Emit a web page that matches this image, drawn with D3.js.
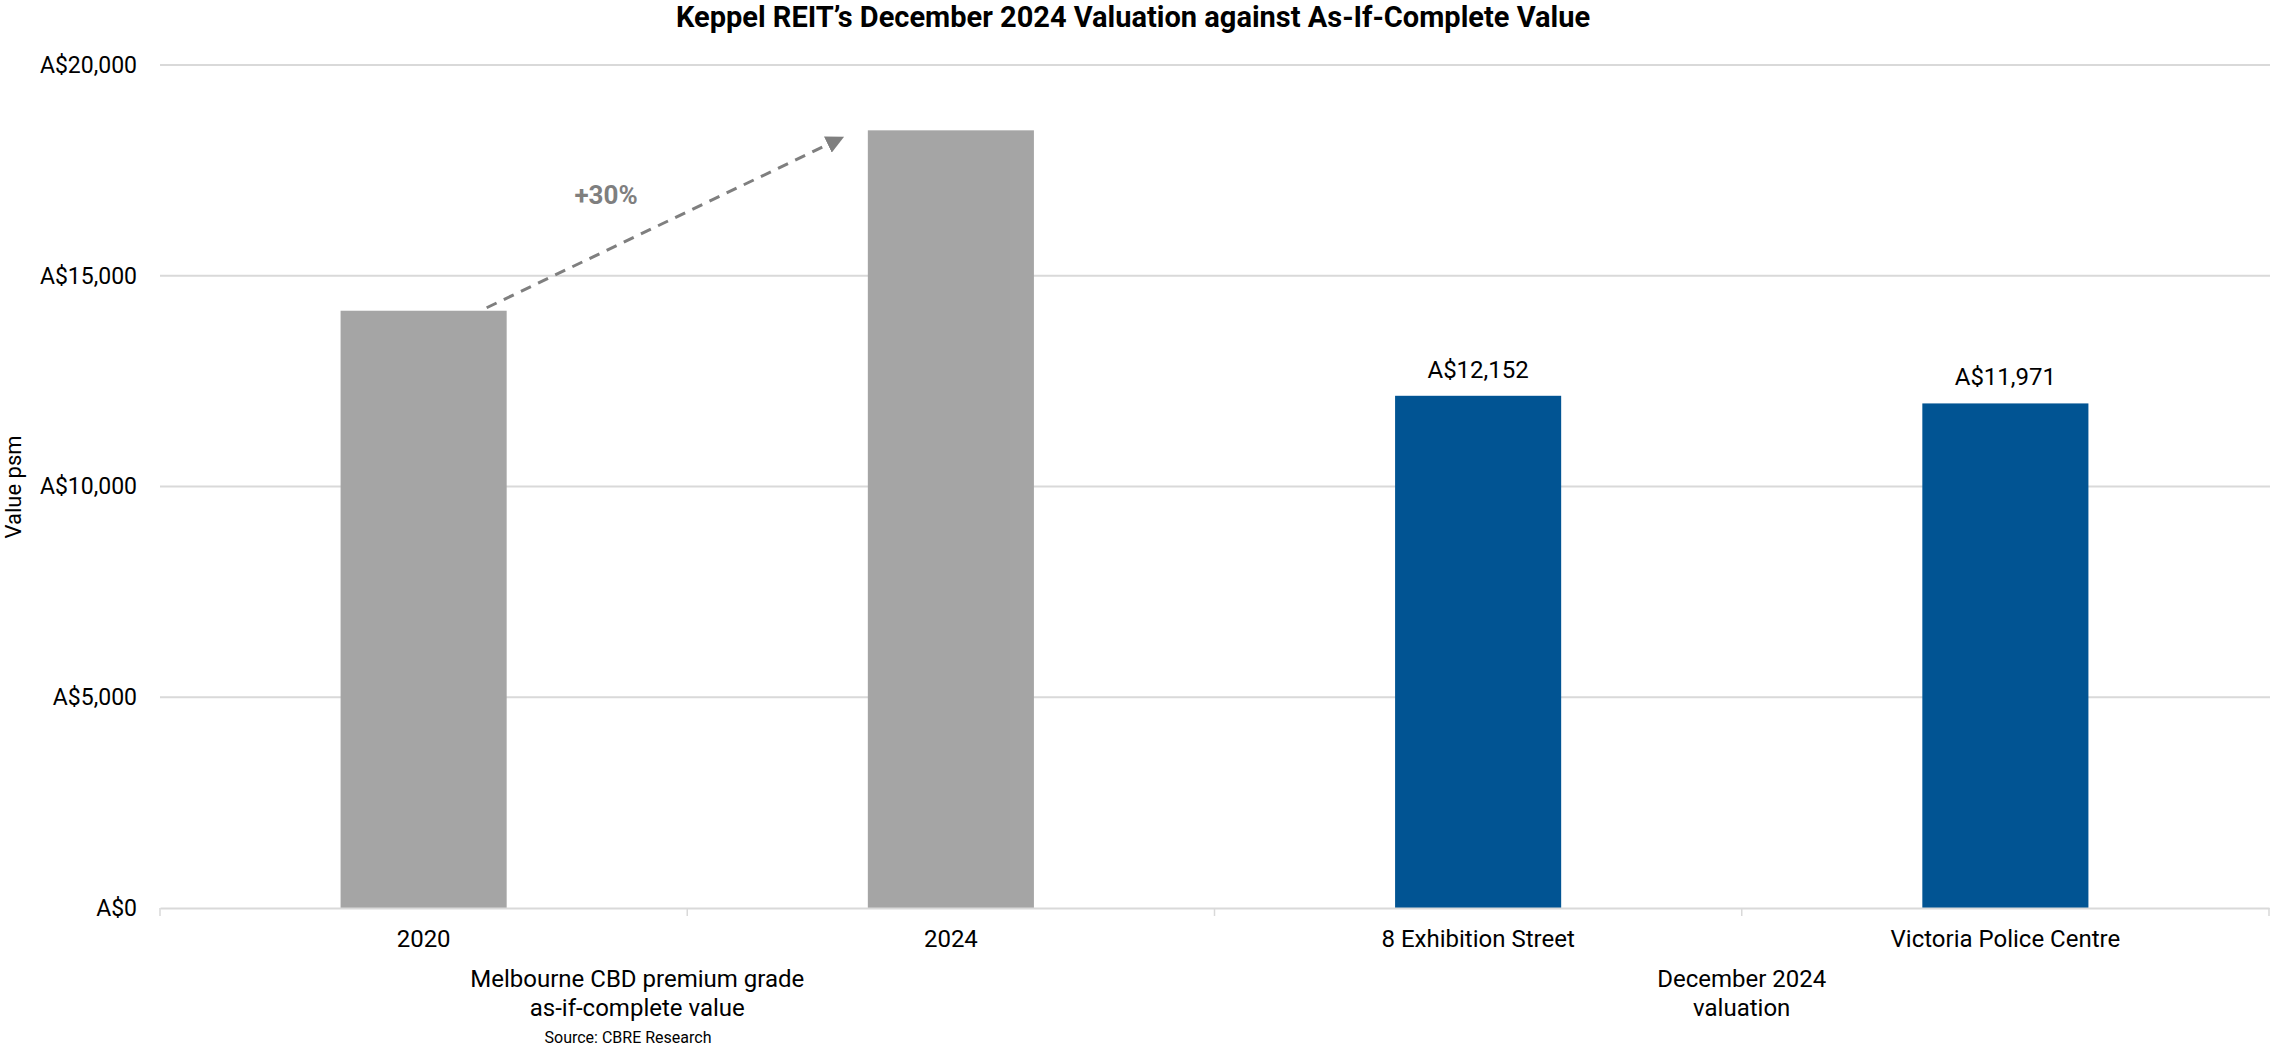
<!DOCTYPE html>
<html><head><meta charset="utf-8">
<script src="https://cdn.jsdelivr.net/npm/d3@7"></script>
<style>
html,body{margin:0;padding:0;background:#fff;}
svg{display:block;font-family:Roboto,"Noto Sans",sans-serif;}
</style></head>
<body>
<svg id="c" width="2270" height="1050"></svg>
<script>
const categories = ["2020", "2024", "8 Exhibition Street", "Victoria Police Centre"];
const values = [14170, 18450, 12152, 11971];
const barColors = ["#a5a5a5", "#a5a5a5", "#015493", "#015493"];
const valueLabels = [null, null, "A$12,152", "A$11,971"];
const yTicks = [0, 5000, 10000, 15000, 20000];
const groups = [
  {lines: ["Melbourne CBD premium grade", "as-if-complete value"], from: 0, to: 1},
  {lines: ["December 2024", "valuation"], from: 2, to: 3}
];
const title = "Keppel REIT\u2019s December 2024 Valuation against As-If-Complete Value";
const yTitle = "Value psm";
const source = "Source: CBRE Research";
const growthLabel = "+30%";

(function(){
const svg = d3.select("#c");
const pL = 160, pR = 2269, pT = 65, pB = 908;
const x = d3.scaleBand().domain(categories).range([pL, pR]).padding(0);
const y = d3.scaleLinear().domain([0, 20000]).range([pB, pT]);
const barW = x.bandwidth() * 0.315;
const fmt = v => "A$" + d3.format(",")(v);

// gridlines
svg.append("g").selectAll("line").data(yTicks.filter(t => t > 0)).join("line")
  .attr("x1", pL).attr("x2", 2270).attr("y1", d => y(d)).attr("y2", d => y(d))
  .attr("stroke", "#d9d9d9").attr("stroke-width", 2);

// y axis labels
const yAxis = svg.append("g").attr("transform", `translate(${pL},0)`)
  .call(d3.axisLeft(y).tickValues(yTicks).tickFormat(fmt).tickSize(0).tickPadding(23));
yAxis.select(".domain").remove();
yAxis.selectAll("text").attr("font-size", 23).attr("fill", "#000").attr("font-family", "Roboto");

// bars
svg.append("g").selectAll("rect").data(values).join("rect")
  .attr("x", (d, i) => x(categories[i]) + x.bandwidth() / 2 - barW / 2)
  .attr("width", barW)
  .attr("y", d => y(d))
  .attr("height", d => y(0) - y(d))
  .attr("fill", (d, i) => barColors[i]);

// x axis
const xAxis = svg.append("g").attr("transform", `translate(0,${pB})`)
  .call(d3.axisBottom(x).tickSize(0).tickPadding(22));
xAxis.select(".domain").attr("stroke", "#d9d9d9").attr("stroke-width", 2);
xAxis.selectAll("text").attr("font-size", 24).attr("fill", "#000").attr("font-family", "Roboto");
// category separators
const seps = [pL].concat(categories.map(c => x(c) + x.bandwidth()));
svg.append("g").selectAll("line").data(seps).join("line")
  .attr("x1", d => d).attr("x2", d => d).attr("y1", pB).attr("y2", pB + 8)
  .attr("stroke", "#d9d9d9").attr("stroke-width", 1.5);

// value labels
svg.append("g").selectAll("text").data(values.map((v, i) => ({v, i})).filter(o => valueLabels[o.i])).join("text")
  .attr("x", o => x(categories[o.i]) + x.bandwidth() / 2)
  .attr("y", o => y(o.v) - 18)
  .attr("text-anchor", "middle").attr("font-size", 24).attr("fill", "#000")
  .text(o => valueLabels[o.i]);

// group labels
const gOff = [-50, 0];
groups.forEach((g, gi) => {
  const cx = (x(categories[g.from]) + x(categories[g.to]) + x.bandwidth()) / 2 + gOff[gi];
  g.lines.forEach((ln, li) => {
    svg.append("text").attr("x", cx).attr("y", 987 + li * 29)
      .attr("text-anchor", "middle").attr("font-size", 24).attr("fill", "#000").text(ln);
  });
});
svg.append("text").attr("x", 628).attr("y", 1043).attr("text-anchor", "middle")
  .attr("font-size", 16).attr("fill", "#000").text(source);

// title
svg.append("text").attr("x", 1133).attr("y", 27).attr("text-anchor", "middle")
  .attr("font-size", 29).attr("font-weight", "bold").attr("fill", "#000").text(title);

// y title
svg.append("text").attr("transform", `translate(21,487) rotate(-90)`)
  .attr("text-anchor", "middle").attr("font-size", 22).attr("fill", "#000").text(yTitle);

// growth arrow
const defs = svg.append("defs");
defs.append("marker").attr("id", "ah").attr("viewBox", "0 0 10 10").attr("refX", 8).attr("refY", 5)
  .attr("markerWidth", 6).attr("markerHeight", 6).attr("markerUnits", "strokeWidth").attr("orient", "auto")
  .append("path").attr("d", "M0,0 L10,5 L0,10 Z").attr("fill", "#7f7f7f");
const x0 = x(categories[0]) + x.bandwidth() / 2 + barW / 2 - 20;
const y0 = y(values[0]) - 3;
const x1 = x(categories[1]) + x.bandwidth() / 2 - barW / 2 - 27;
const y1 = y(values[1]) + 8;
svg.append("line").attr("x1", x0).attr("y1", y0).attr("x2", x1).attr("y2", y1)
  .attr("stroke", "#7f7f7f").attr("stroke-width", 3).attr("stroke-dasharray", "11,8")
  .attr("marker-end", "url(#ah)");
svg.append("text").attr("x", 606).attr("y", 204).attr("text-anchor", "middle")
  .attr("font-size", 26).attr("font-weight", "bold").attr("fill", "#7f7f7f").text(growthLabel);
})();
</script>
</body></html>
